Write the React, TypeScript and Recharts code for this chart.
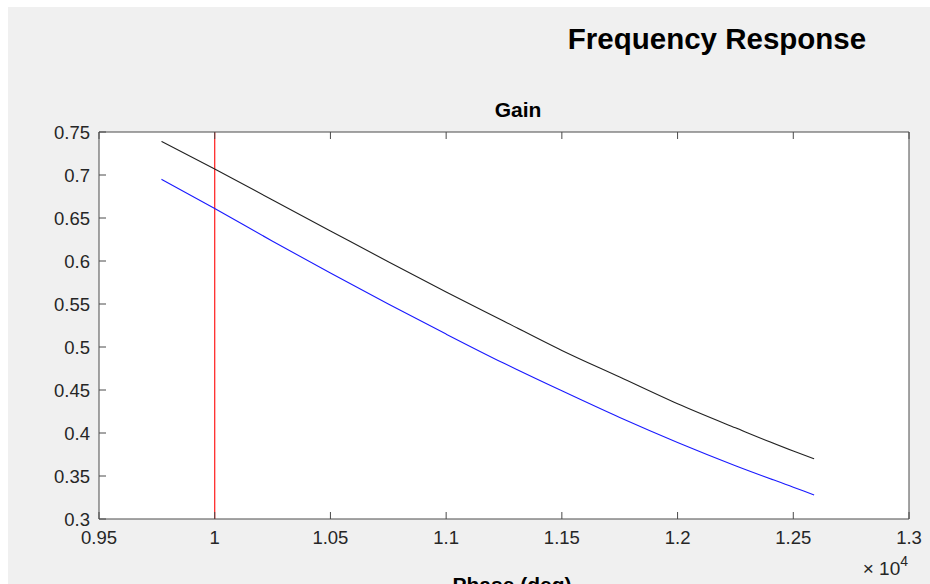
import React from "react";
import { LineChart, Line, XAxis, YAxis, CartesianGrid, ReferenceLine } from "recharts";

// frequency (Hz) and gain
const freq = [9770, 10000, 10250, 10500, 10750, 11000, 11250, 11500, 11750, 12000, 12250, 12500, 12590];
const gainIdeal = [0.739, 0.707, 0.671, 0.635, 0.599, 0.564, 0.53, 0.496, 0.465, 0.434, 0.406, 0.379, 0.37];
const gainActual = [0.695, 0.661, 0.623, 0.586, 0.55, 0.515, 0.481, 0.449, 0.418, 0.389, 0.362, 0.337, 0.328];

const xTicks = [9500, 10000, 10500, 11000, 11500, 12000, 12500, 13000];
const yTicks = [0.3, 0.35, 0.4, 0.45, 0.5, 0.55, 0.6, 0.65, 0.7, 0.75];
const cutoff = 10000;

const FONT = '"Liberation Sans", Arial, Helvetica, sans-serif';
const AXIS = "#4a4a4a";
const TEXT = "#262626";
const TICK_LEN = 7;
const TICK_FONT = 18.5;

const W = 922;
const H = 577;

// MATLAB-style ticks: short marks pointing into the plot, labels outside
function BottomTick({ x, y, payload }: any) {
  return (
    <g>
      <line x1={x} y1={y} x2={x} y2={y - TICK_LEN} stroke={AXIS} strokeWidth={1} />
      <text x={x} y={y + 25} textAnchor="middle" style={{ fontFamily: FONT, fontSize: TICK_FONT, fill: TEXT }}>
        {String(payload.value / 10000)}
      </text>
    </g>
  );
}

function TopTick({ x, y }: any) {
  return <line x1={x} y1={y} x2={x} y2={y + TICK_LEN} stroke={AXIS} strokeWidth={1} />;
}

function LeftTick({ x, y, payload }: any) {
  return (
    <g>
      <line x1={x} y1={y} x2={x + TICK_LEN} y2={y} stroke={AXIS} strokeWidth={1} />
      <text x={x - 9} y={y + 6.5} textAnchor="end" style={{ fontFamily: FONT, fontSize: TICK_FONT, fill: TEXT }}>
        {String(payload.value)}
      </text>
    </g>
  );
}

function RightTick({ x, y }: any) {
  return <line x1={x} y1={y} x2={x - TICK_LEN} y2={y} stroke={AXIS} strokeWidth={1} />;
}

export default function App() {
  const data = freq.map((f, i) => ({ f, ideal: gainIdeal[i], actual: gainActual[i] }));

  return (
    <div style={{ position: "fixed", left: 8, top: 7, width: W, height: H, background: "#f0f0f0", overflow: "hidden" }}>
      <LineChart width={W} height={H} data={data} margin={{ top: 124, right: 20, bottom: 35, left: 31 }}>
        <CartesianGrid fill="#ffffff" fillOpacity={1} stroke="none" horizontal={false} vertical={false} />
        <XAxis
          dataKey="f"
          type="number"
          domain={[9500, 13000]}
          ticks={xTicks}
          height={30}
          tickSize={0}
          tickMargin={0}
          tickLine={false}
          stroke={AXIS}
          tick={<BottomTick />}
          interval={0}
        />
        <XAxis
          xAxisId="top"
          orientation="top"
          dataKey="f"
          type="number"
          domain={[9500, 13000]}
          ticks={xTicks}
          height={1}
          tickSize={0}
          tickMargin={0}
          tickLine={false}
          stroke={AXIS}
          tick={<TopTick />}
          interval={0}
        />
        <YAxis
          type="number"
          domain={[0.3, 0.75]}
          ticks={yTicks}
          width={60}
          tickSize={0}
          tickMargin={0}
          tickLine={false}
          stroke={AXIS}
          tick={<LeftTick />}
          interval={0}
        />
        <YAxis
          yAxisId="right"
          orientation="right"
          type="number"
          domain={[0.3, 0.75]}
          ticks={yTicks}
          width={1}
          tickSize={0}
          tickMargin={0}
          tickLine={false}
          stroke={AXIS}
          tick={<RightTick />}
          interval={0}
        />
        <ReferenceLine x={cutoff} stroke="#ff1a1a" strokeWidth={1.2} />
        <Line type="monotone" dataKey="ideal" stroke="#222222" strokeWidth={1.1} dot={false} isAnimationActive={false} />
        <Line type="monotone" dataKey="actual" stroke="#1a1aff" strokeWidth={1.1} dot={false} isAnimationActive={false} />
      </LineChart>
      <svg width={W} height={H + 20} style={{ position: "absolute", left: 0, top: 0, pointerEvents: "none" }}>
        <text x={709} y={42} textAnchor="middle" fontFamily={FONT} fontWeight="bold" fontSize={29.5} fill="#000">
          Frequency Response
        </text>
        <text x={510} y={110} textAnchor="middle" fontFamily={FONT} fontWeight="bold" fontSize={21} fill="#000">
          Gain
        </text>
        <text x={900} y={568} textAnchor="end" fontFamily={FONT} fontSize={19} fill={TEXT}>
          <tspan>× 10</tspan>
          <tspan fontSize={14} dy={-9}>4</tspan>
        </text>
        <text x={504} y={585} textAnchor="middle" fontFamily={FONT} fontWeight="bold" fontSize={21} fill="#000">
          Phase (deg)
        </text>
      </svg>
    </div>
  );
}
